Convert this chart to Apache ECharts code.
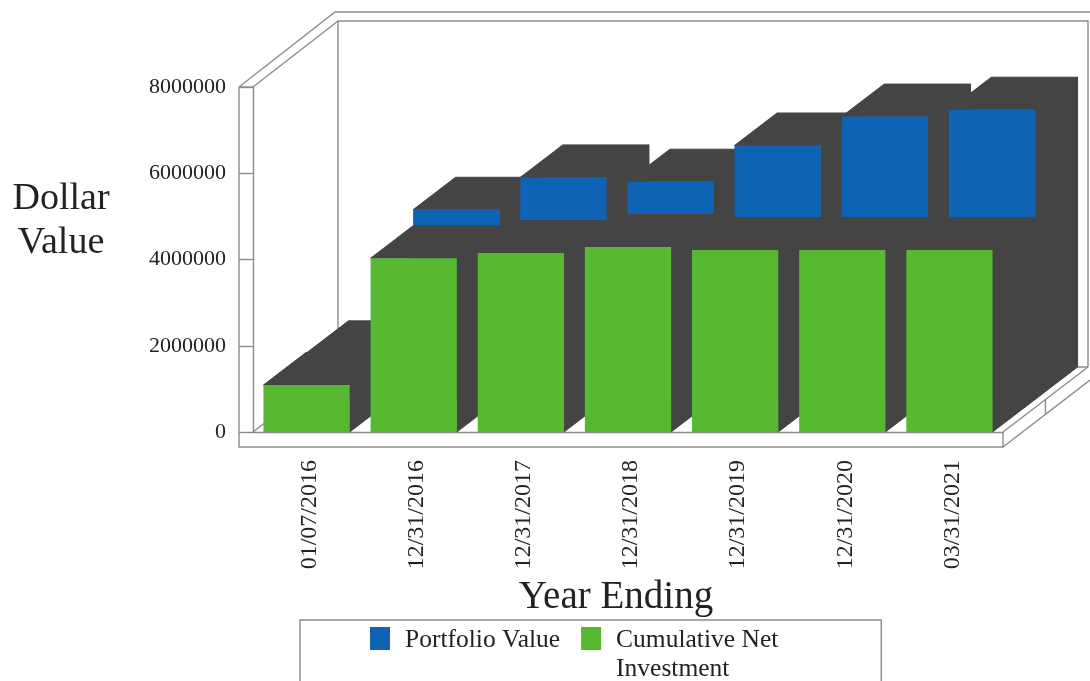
<!DOCTYPE html>
<html>
<head>
<meta charset="utf-8">
<style>html,body{margin:0;padding:0;background:#fff}#c{width:1090px;height:681px}</style>
<script src="https://cdn.jsdelivr.net/npm/echarts@6/dist/echarts.min.js"></script>
</head>
<body>
<div id="c"></div>
<script>
const categories = ['01/07/2016','12/31/2016','12/31/2017','12/31/2018','12/31/2019','12/31/2020','03/31/2021'];
const portfolioValue = [1070000, 4400000, 5150000, 5050000, 5890000, 6560000, 6720000];
const cumulativeNetInvestment = [1090000, 4030000, 4150000, 4290000, 4220000, 4220000, 4220000];

const SERIF = '"Liberation Serif","Times New Roman",serif';
const TEXT = '#222222', LINE = '#8c8c8c', DARK = '#444444', BLUE = '#0e63b4', GREEN = '#57b832';
const DEPTH_X = 85, DEPTH_Y = 65, WALL = 14, FLOOR = 15;

function barRenderer(rowShift, color) {
  return function (params, api) {
    const i = api.value(0), v = api.value(1);
    const sx = DEPTH_X * rowShift, sy = -DEPTH_Y * rowShift;
    const hx = DEPTH_X / 2, hy = -DEPTH_Y / 2;
    const w = api.size([1, 0])[0] * 0.805;
    const top = api.coord([i, v]), base = api.coord([i, 0]);
    const l = top[0] - w / 2 + sx, r = l + w, t = top[1] + sy, b = base[1] + sy;
    const poly = (pts) => ({ type: 'polygon', shape: { points: pts }, style: { fill: DARK, stroke: DARK, lineWidth: 1 } });
    return { type: 'group', children: [
      poly([[l, t], [r, t], [r + hx, t + hy], [l + hx, t + hy]]),
      poly([[r, t], [r + hx, t + hy], [r + hx, b + hy], [r, b]]),
      { type: 'rect', shape: { x: l, y: t, width: w, height: b - t }, style: { fill: color } }
    ] };
  };
}

function frameRenderer(params) {
  const g = params.coordSys;
  const L = g.x, R = g.x + g.width, T = g.y, B = g.y + g.height;
  const bx = L + DEPTH_X, tY = T - DEPTH_Y - 1, fY = B - DEPTH_Y;
  const seg = (pts) => ({ type: 'polyline', shape: { points: pts }, style: { fill: null, stroke: LINE, lineWidth: 1.4 } });
  return { type: 'group', children: [
    seg([[bx, fY], [bx, tY], [R + DEPTH_X, tY], [R + DEPTH_X, fY]]),
    seg([[L - WALL, T], [bx - 3, tY - 9], [R + DEPTH_X + 2, tY - 9]]),
    seg([[L, T], [bx, tY]]),
    seg([[L - WALL, T], [L, T]]),
    seg([[L - WALL, T], [L - WALL, B + FLOOR], [R, B + FLOOR], [R, B]]),
    seg([[L, B], [bx, fY], [R + DEPTH_X, fY]]),
    seg([[R, B], [R + DEPTH_X, fY]]),
    seg([[R, B + FLOOR], [R + DEPTH_X + 2, fY + FLOOR - 2]]),
    seg([[R + DEPTH_X / 2, B - DEPTH_Y / 2], [R + DEPTH_X / 2, B - DEPTH_Y / 2 + FLOOR - 1]])
  ] };
}

const chart = echarts.init(document.getElementById('c'), null, { renderer: 'canvas' });
chart.setOption({
  animation: false,
  backgroundColor: '#ffffff',
  textStyle: { fontFamily: SERIF, color: TEXT },
  title: {
    text: 'Dollar\nValue', left: 56, top: 172, textAlign: 'center',
    textStyle: { fontFamily: SERIF, fontSize: 38, fontWeight: 'normal', color: TEXT, lineHeight: 44 }
  },
  grid: { left: 253, top: 87, width: 750, height: 345 },
  xAxis: {
    type: 'category', data: categories,
    name: 'Year Ending', nameLocation: 'middle', nameGap: 146,
    nameTextStyle: { fontFamily: SERIF, fontSize: 39, color: TEXT, padding: [0, 24, 0, 0] },
    axisLine: { lineStyle: { color: LINE, width: 1.4 } },
    axisTick: { length: 15, lineStyle: { color: LINE, width: 1.4 } },
    axisLabel: { rotate: 90, margin: 28, interval: 0, fontFamily: SERIF, fontSize: 24, color: TEXT, verticalAlign: 'top', lineHeight: 6 },
    splitLine: { show: false }
  },
  yAxis: {
    type: 'value', min: 0, max: 8000000, interval: 2000000,
    axisLine: { show: true, lineStyle: { color: LINE, width: 1.4 } },
    axisTick: { show: true, length: 14, lineStyle: { color: LINE, width: 1.4 } },
    axisLabel: { margin: 27, fontFamily: SERIF, fontSize: 22, color: TEXT, formatter: (v) => String(v) },
    splitLine: { show: false }
  },
  legend: {
    left: 300, top: 620,
    padding: [6, 103, 6, 70],
    borderColor: LINE, borderWidth: 1.4,
    itemGap: 21, itemWidth: 20, itemHeight: 58,
    icon: 'path://M0 1H20V24H0Z M0 0L20 0Z M0 58L20 58Z',
    data: ['Portfolio Value', 'Cumulative Net Investment'],
    formatter: (n) => n === 'Portfolio Value' ? 'Portfolio Value\n ' : 'Cumulative Net\nInvestment',
    textStyle: { fontFamily: SERIF, fontSize: 25.5, color: TEXT, lineHeight: 29, padding: [0, 0, 0, 10] }
  },
  series: [
    { name: 'Frame', type: 'custom', z: 1, silent: true, data: [[0, 0]], renderItem: frameRenderer },
    { name: 'Portfolio Value', type: 'custom', z: 2, itemStyle: { color: BLUE },
      data: portfolioValue.map((v, i) => [i, v]), encode: { x: 0, y: 1 },
      renderItem: barRenderer(0.5, BLUE) },
    { name: 'Cumulative Net Investment', type: 'custom', z: 3, itemStyle: { color: GREEN },
      data: cumulativeNetInvestment.map((v, i) => [i, v]), encode: { x: 0, y: 1 },
      renderItem: barRenderer(0, GREEN) }
  ]
});
</script>
</body>
</html>
